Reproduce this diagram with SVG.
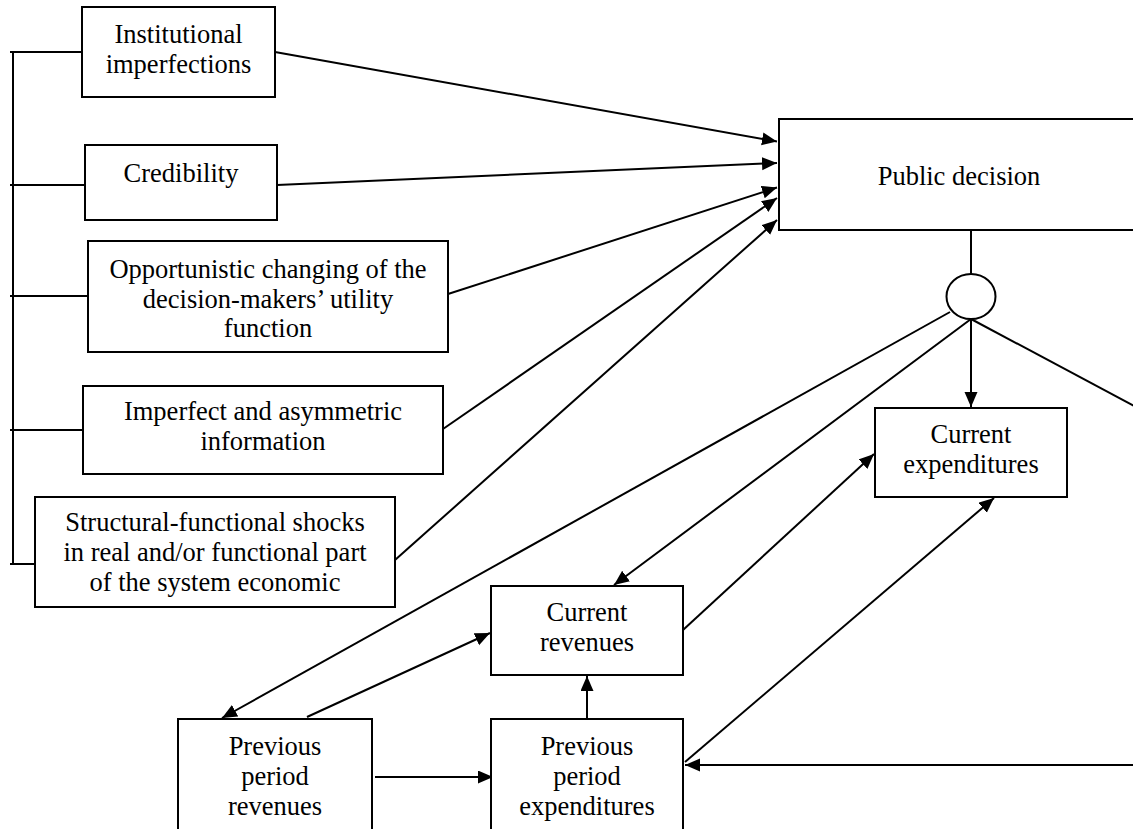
<svg xmlns="http://www.w3.org/2000/svg" width="1133" height="829" viewBox="0 0 1133 829">
<defs>
<style>
.box{fill:#fff;stroke:#000;stroke-width:2}
.t{font-family:"Liberation Serif","Times New Roman",serif;font-size:26.5px;fill:#000;text-anchor:middle}
.c{fill:none;stroke:#000;stroke-width:2}
</style>
<marker id="ah" markerUnits="userSpaceOnUse" markerWidth="16" markerHeight="14" refX="15" refY="6.5" orient="auto">
<path d="M0,0 L15,6.5 L0,13 z" fill="#000"/>
</marker>
</defs>
<rect width="1133" height="829" fill="#fff"/>

<g id="connectors">
<path class="c" d="M13,52 L13,565 M10,52 L82,52 M10,185 L85,185 M10,296 L88,296 M10,430 L83,430 M10,564 L35,564"/>
<path class="c" d="M275,52 L777,141.5" marker-end="url(#ah)"/>
<path class="c" d="M277,185 L777,163" marker-end="url(#ah)"/>
<path class="c" d="M448,294 L777,187.5" marker-end="url(#ah)"/>
<path class="c" d="M443,429 L777,198" marker-end="url(#ah)"/>
<path class="c" d="M395,560 L777,220" marker-end="url(#ah)"/>
<path class="c" d="M971,230 L971,274"/>
<path class="c" d="M971,319 L971,407" marker-end="url(#ah)"/>
<path class="c" d="M950,312 L222,718" marker-end="url(#ah)"/>
<path class="c" d="M971,319 L614,585" marker-end="url(#ah)"/>
<path class="c" d="M971,319 L1140,409"/>
<path class="c" d="M1140,765 L685,765" marker-end="url(#ah)"/>
<path class="c" d="M683,630 L874,454" marker-end="url(#ah)"/>
<path class="c" d="M685,762 L994,498" marker-end="url(#ah)"/>
<path class="c" d="M307,717 L490,633" marker-end="url(#ah)"/>
<path class="c" d="M587,719 L587,676" marker-end="url(#ah)"/>
<path class="c" d="M375,777 L493,777" marker-end="url(#ah)"/>
</g>

<g id="n-institutional">
<rect class="box" x="82" y="7" width="193" height="90"/>
<text class="t" x="178.5" y="43">Institutional</text>
<text class="t" x="178.5" y="73">imperfections</text>
</g>
<g id="n-credibility">
<rect class="box" x="85" y="145" width="192" height="75"/>
<text class="t" x="181" y="182">Credibility</text>
</g>
<g id="n-opportunistic">
<rect class="box" x="88" y="241" width="360" height="111"/>
<text class="t" x="268" y="278">Opportunistic changing of the</text>
<text class="t" x="268" y="307.5">decision-makers’ utility</text>
<text class="t" x="268" y="337">function</text>
</g>
<g id="n-imperfect">
<rect class="box" x="83" y="386" width="360" height="88"/>
<text class="t" x="263" y="420">Imperfect and asymmetric</text>
<text class="t" x="263" y="450">information</text>
</g>
<g id="n-structural">
<rect class="box" x="35" y="497" width="360" height="110"/>
<text class="t" x="215" y="531">Structural-functional shocks</text>
<text class="t" x="215" y="561">in real and/or functional part</text>
<text class="t" x="215" y="591">of the system economic</text>
</g>
<g id="n-public">
<rect class="box" x="779" y="119" width="360" height="111"/>
<text class="t" x="959" y="185">Public decision</text>
</g>
<g id="n-junction">
<ellipse class="box" cx="971" cy="296.5" rx="24.5" ry="22.5"/>
</g>
<g id="n-current-exp">
<rect class="box" x="875" y="408" width="192" height="89"/>
<text class="t" x="971" y="443">Current</text>
<text class="t" x="971" y="472.5">expenditures</text>
</g>
<g id="n-current-rev">
<rect class="box" x="491" y="586" width="192" height="89"/>
<text class="t" x="587" y="621">Current</text>
<text class="t" x="587" y="651">revenues</text>
</g>
<g id="n-prev-rev">
<rect class="box" x="178" y="719" width="194" height="120"/>
<text class="t" x="275" y="755">Previous</text>
<text class="t" x="275" y="785">period</text>
<text class="t" x="275" y="815">revenues</text>
</g>
<g id="n-prev-exp">
<rect class="box" x="491" y="719" width="192" height="120"/>
<text class="t" x="587" y="755">Previous</text>
<text class="t" x="587" y="785">period</text>
<text class="t" x="587" y="815">expenditures</text>
</g>
</svg>
